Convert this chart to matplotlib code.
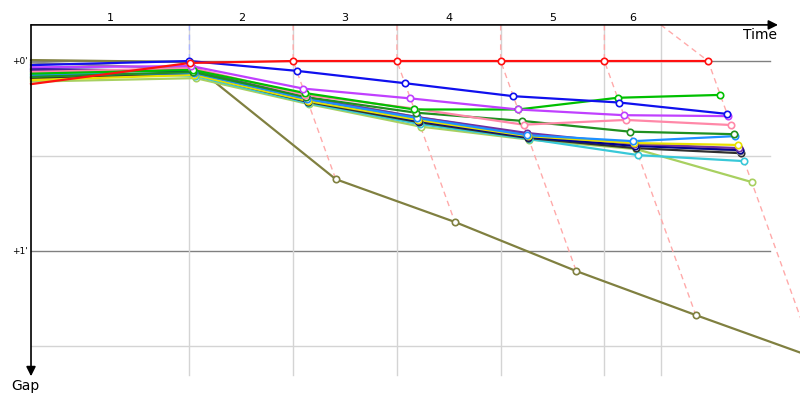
import matplotlib.pyplot as plt
import numpy as np

# leader crossing times (s) for laps 1..6, and the lap boundary marks drawn as grid
leader_times = [139, 230, 321, 412, 503, 594]
lap_marks = [0, 139, 230, 321, 412, 503, 552.5]
lap_labels = ["1", "2", "3", "4", "5", "6"]
lap_leader_color = ["#aab4ff", "#ffaaaa", "#ffaaaa", "#ffaaaa", "#ffaaaa", "#ffaaaa"]

# gap to leader (s): start, lap1 .. lap6
gap_red = [7.3, 0.6, 0, 0, 0, 0, 0]
gap_blue = [1.3, 0.0, 3.1, 7.0, 11.1, 13.1, 16.7]
gap_magenta = [2.0, 1.6, 8.7, 11.8, 15.3, 17.1, 17.4]
gap_green = [4.0, 2.8, 10.1, 15.3, 15.3, 11.6, 10.7]
gap_pink = [3.5, 2.2, 10.7, 15.0, 20.1, 18.6, 20.2]
gap_forest = [5.0, 3.5, 11.4, 16.3, 18.9, 22.3, 23.1]
gap_dodger = [4.5, 3.8, 12.0, 18.0, 23.4, 25.3, 23.7]
gap_yellow = [6.0, 4.4, 12.6, 18.6, 23.7, 25.9, 26.5]
gap_purple = [3.0, 2.8, 11.7, 17.7, 22.7, 26.2, 27.5]
gap_navy = [2.5, 3.2, 12.3, 18.9, 24.0, 26.8, 28.1]
gap_gray = [0.5, 2.5, 11.4, 17.7, 23.1, 26.5, 28.4]
gap_black = [5.5, 4.1, 12.9, 19.3, 24.3, 27.5, 29.1]
gap_cyan = [3.2, 4.7, 13.3, 19.9, 24.6, 29.7, 31.6]
gap_yellowgreen = [6.5, 5.4, 13.6, 20.7, 24.8, 27.8, 38.2]
gap_olive = [-0.3, 0.3, 37.3, 50.8, 66.3, 80.2, 93.7]

riders = [
    ("#808040", gap_olive),
    ("#a8d060", gap_yellowgreen),
    ("#38c8d8", gap_cyan),
    ("#303030", gap_black),
    ("#8c8c8c", gap_gray),
    ("#000090", gap_navy),
    ("#7030a0", gap_purple),
    ("#e8e000", gap_yellow),
    ("#1e90ff", gap_dodger),
    ("#209020", gap_forest),
    ("#ff88a8", gap_pink),
    ("#00c000", gap_green),
    ("#c040ff", gap_magenta),
    ("#1010ee", gap_blue),
    ("#ff1010", gap_red),
]

fig = plt.figure(figsize=(8, 4), dpi=100)
ax = fig.add_axes([0, 0, 1, 1])
ax.set_xlim(-27.2, 674.6)
ax.set_ylim(107.0, -19.26)
ax.axis("off")

top, bottom = -11.4, 99.2
right = 648

# grid
for g, c in [(0, "#808080"), (30, "#d4d4d4"), (60, "#808080"), (90, "#d4d4d4")]:
    ax.plot([0, right], [g, g], color=c, lw=1, zorder=1)
for t in lap_marks[1:]:
    ax.plot([t, t], [top, bottom], color="#d4d4d4", lw=1, zorder=1)

# lap crossing lines
for k in range(6):
    pts = sorted([(r[1][k + 1], leader_times[k] + r[1][k + 1]) for r in riders])
    xs = [lap_marks[k + 1]] + [p[1] for p in pts]
    ys = [top] + [p[0] for p in pts]
    ax.plot(xs, ys, color=lap_leader_color[k], lw=1, ls=(0, (4, 3)), zorder=2)

# riders
for color, gaps in riders:
    xs = [0] + [leader_times[k] + gaps[k + 1] for k in range(6)]
    ax.plot(xs, gaps, color=color, lw=1.6, zorder=3)
    ax.plot(xs[1:], gaps[1:], ls="none", marker="o", ms=4.6, mfc="white",
            mec=color, mew=1.2, zorder=4)

# axes arrows
ax.annotate("", xy=(655.3, top), xytext=(0, top),
            arrowprops=dict(arrowstyle="-|>", color="black", lw=1.2,
                            mutation_scale=14, shrinkA=0, shrinkB=0), zorder=5)
ax.annotate("", xy=(0, 99.5), xytext=(0, top),
            arrowprops=dict(arrowstyle="-|>", color="black", lw=1.2,
                            mutation_scale=14, shrinkA=0, shrinkB=0), zorder=5)

for i, lab in enumerate(lap_labels):
    ax.text((lap_marks[i] + lap_marks[i + 1]) / 2, -13.6, lab, ha="center",
            va="center", fontsize=8)
ax.text(-2.5, 0, "+0'", ha="right", va="center", fontsize=6.5)
ax.text(-2.5, 60, "+1'", ha="right", va="center", fontsize=6.5)
ax.text(654.4, -8.2, "Time", ha="right", va="center", fontsize=10)
ax.text(-5.3, 102.6, "Gap", ha="center", va="center", fontsize=10)

plt.savefig("out.png", dpi=100)
